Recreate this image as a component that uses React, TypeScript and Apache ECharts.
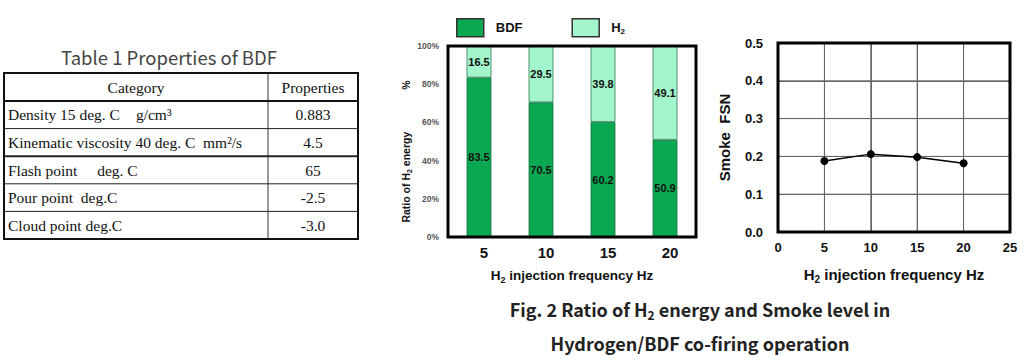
import React, { useEffect, useRef } from "react";
import * as echarts from "echarts";

// ---- data ----
const frequencyCategories = ["5", "10", "15", "20"];
const bdfRatio = [83.5, 70.5, 60.2, 50.9];
const h2Ratio = [16.5, 29.5, 39.8, 49.1];
const smokeFrequency = [5, 10, 15, 20];
const smokeFSN = [0.188, 0.206, 0.198, 0.182];
const ratioTicks = [0, 20, 40, 60, 80, 100];
const smokeXTicks = [0, 5, 10, 15, 20, 25];
const smokeYTicks = [0, 0.1, 0.2, 0.3, 0.4, 0.5];

const tableTitle = "Table 1 Properties of BDF";
const tableHeader = ["Category", "Properties"];
const tableCategories = [
  "Density 15 deg. C\u3000g/cm\u00b3",
  "Kinematic viscosity 40 deg. C  mm\u00b2/s",
  "Flash point \u3000deg. C",
  "Pour point  deg.C",
  "Cloud point deg.C",
];
const tableValues = ["0.883", "4.5", "65", "-2.5", "-3.0"];
const captionLines = [
  "{n|Fig. 2 Ratio of H}{s|2}{n| energy and Smoke level in}",
  "{n|Hydrogen/BDF co-firing operation}",
];

// ---- layout ----
const SANS = "'Liberation Sans', Arial, sans-serif";
const SERIF = "'Liberation Serif', 'Times New Roman', serif";
const JP = "'Noto Sans CJK JP', 'Noto Sans', sans-serif";
const barGrid = { left: 448, top: 46, width: 248, height: 191 };
const lineGrid = { left: 778, top: 43, width: 232, height: 189 };
const table = { x0: 4, x1: 358, xMid: 268, top: 73, headerH: 28, rowH: 27.6 };
const GRID_COLOR = "#666";

function subRich(size: number, lh: number) {
  return {
    n: { fontFamily: SANS, fontWeight: "bold", fontSize: size, lineHeight: lh, color: "#111" },
    s: { fontFamily: SANS, fontWeight: "bold", fontSize: Math.round(size * 0.65), lineHeight: Math.round(size * 0.65), verticalAlign: "bottom", color: "#111" },
    p: { fontFamily: SANS, fontWeight: "bold", fontSize: size, lineHeight: lh, color: "#111", padding: [0, 20, 0, 42] },
  };
}

function buildTable() {
  const els: any[] = [];
  const bottom = table.top + table.headerH + table.rowH * tableCategories.length;
  els.push({
    type: "text",
    style: { text: tableTitle, x: 169, y: 57, align: "center", verticalAlign: "middle", font: `18.5px ${JP}`, fill: "#444" },
  });
  els.push({
    type: "rect",
    shape: { x: table.x0, y: table.top, width: table.x1 - table.x0, height: bottom - table.top },
    style: { fill: "none", stroke: "#111", lineWidth: 2 },
  });
  els.push({
    type: "line",
    shape: { x1: table.xMid, y1: table.top, x2: table.xMid, y2: bottom },
    style: { stroke: "#333", lineWidth: 1 },
  });
  const hy = table.top + table.headerH;
  els.push({ type: "line", shape: { x1: table.x0, y1: hy, x2: table.x1, y2: hy }, style: { stroke: "#111", lineWidth: 2 } });
  for (let i = 1; i < tableCategories.length; i++) {
    const y = hy + table.rowH * i;
    els.push({ type: "line", shape: { x1: table.x0, y1: y, x2: table.x1, y2: y }, style: { stroke: "#222", lineWidth: i === 2 ? 2 : 1 } });
  }
  const f = `15.5px ${SERIF}`;
  els.push({ type: "text", style: { text: tableHeader[0], x: (table.x0 + table.xMid) / 2, y: table.top + table.headerH / 2, align: "center", verticalAlign: "middle", font: f, fill: "#111" } });
  els.push({ type: "text", style: { text: tableHeader[1], x: (table.xMid + table.x1) / 2, y: table.top + table.headerH / 2, align: "center", verticalAlign: "middle", font: f, fill: "#111" } });
  tableCategories.forEach((c, i) => {
    const cy = hy + table.rowH * i + table.rowH / 2;
    els.push({ type: "text", style: { text: c, x: table.x0 + 4, y: cy, align: "left", verticalAlign: "middle", font: f, fill: "#111" } });
    els.push({ type: "text", style: { text: tableValues[i], x: (table.xMid + table.x1) / 2, y: cy, align: "center", verticalAlign: "middle", font: f, fill: "#111" } });
  });
  return els;
}

export default function App() {
  const ref = useRef<HTMLDivElement>(null);
  useEffect(() => {
    if (!ref.current) return;
    const chart = echarts.init(ref.current, undefined, { renderer: "svg" });
    const xMin = smokeXTicks[0], xMax = smokeXTicks[smokeXTicks.length - 1];
    const yMin = smokeYTicks[0], yMax = smokeYTicks[smokeYTicks.length - 1];

    // grid lines of the smoke chart as plain line series (drawn through the axes' scales)
    const gridSeries: any[] = [
      ...smokeXTicks.slice(1, -1).map((v) => [[v, yMin], [v, yMax]]),
      ...smokeYTicks.slice(1, -1).map((v) => [[xMin, v], [xMax, v]]),
    ].map((d, i) => ({
      name: "grid" + i, type: "line", xAxisIndex: 1, yAxisIndex: 1, z: 1,
      data: d, symbol: "none", silent: true, clip: false,
      lineStyle: { color: GRID_COLOR, width: 1, type: "solid" },
      emphasis: { disabled: true },
    }));

    const graphics: any[] = [
      ...buildTable(),
      {
        type: "rect", z: 100,
        shape: { x: barGrid.left, y: barGrid.top, width: barGrid.width, height: barGrid.height },
        style: { fill: "none", stroke: "#000", lineWidth: 3 },
      },
      {
        type: "rect", z: 100,
        shape: { x: lineGrid.left, y: lineGrid.top, width: lineGrid.width, height: lineGrid.height },
        style: { fill: "none", stroke: "#000", lineWidth: 3 },
      },
      ...captionLines.map((t, i) => ({
        type: "text",
        style: {
          text: t, x: 700, y: 309 + i * 34, align: "center", verticalAlign: "middle",
          rich: {
            n: { fontFamily: JP, fontWeight: "bold", fontSize: 18, lineHeight: 24, fill: "#222" },
            s: { fontFamily: JP, fontWeight: "bold", fontSize: 12, lineHeight: 12, verticalAlign: "bottom", fill: "#222" },
          },
        },
      })),
    ];

    chart.setOption({
      animation: false,
      backgroundColor: "#fff",
      legend: {
        left: 451, top: 13, itemWidth: 27, itemHeight: 18, itemGap: 49,
        icon: "rect",
        data: ["BDF", "H2"],
        formatter: (name: string) => (name === "H2" ? "{n|H}{s|2}" : "{n|" + name + "}"),
        textStyle: { padding: [0, 0, 0, 7], rich: subRich(13, 16) },
        itemStyle: { borderColor: "#333", borderWidth: 1.5 },
      },
      grid: [{ ...barGrid }, { ...lineGrid }],
      xAxis: [
        {
          gridIndex: 0, type: "category", data: frequencyCategories,
          axisLine: { show: false }, axisTick: { show: false },
          axisLabel: { fontFamily: SANS, fontWeight: "bold", fontSize: 15, color: "#111", margin: 8, padding: [0, 0, 0, 10] },
          name: "{n|H}{s|2}{n| injection frequency Hz}", nameLocation: "middle", nameGap: 30,
          nameTextStyle: { rich: subRich(13.5, 17) },
        },
        {
          gridIndex: 1, type: "value", min: xMin, max: xMax, interval: 5,
          axisLine: { show: false }, axisTick: { show: false },
          splitLine: { show: true, lineStyle: { color: GRID_COLOR, width: 1 } },
          axisLabel: { fontFamily: SANS, fontWeight: "bold", fontSize: 13, color: "#111", margin: 9 },
          name: "{n|H}{s|2}{n| injection frequency Hz}", nameLocation: "middle", nameGap: 33,
          nameTextStyle: { rich: subRich(15, 19) },
        },
      ],
      yAxis: [
        {
          gridIndex: 0, type: "value", min: ratioTicks[0], max: ratioTicks[ratioTicks.length - 1], interval: 20,
          axisLine: { show: false }, axisTick: { show: false }, splitLine: { show: false },
          axisLabel: { formatter: "{value}%", fontFamily: SANS, fontWeight: "bold", fontSize: 8.5, color: "#555", margin: 9 },
          name: "{n|Ratio of H}{s|2}{n| energy}{p|%}", nameLocation: "middle", nameGap: 35,
          nameTextStyle: { rich: subRich(10.5, 14) },
        },
        {
          gridIndex: 1, type: "value", min: yMin, max: yMax, interval: 0.1,
          axisLine: { show: false }, axisTick: { show: false },
          splitLine: { show: true, lineStyle: { color: GRID_COLOR, width: 1 } },
          axisLabel: { formatter: (v: number) => v.toFixed(1), fontFamily: SANS, fontWeight: "bold", fontSize: 13, color: "#111", margin: 15 },
          name: "Smoke  FSN", nameLocation: "middle", nameGap: 46,
          nameTextStyle: { fontFamily: SANS, fontWeight: "bold", fontSize: 15, color: "#111" },
        },
      ],
      series: [
        {
          name: "BDF", type: "bar", stack: "r", xAxisIndex: 0, yAxisIndex: 0, barWidth: "40%",
          data: bdfRatio,
          itemStyle: { color: "#0aa850", borderColor: "#1b6e45", borderWidth: 0.8 },
          label: { show: true, position: "inside", fontFamily: SANS, fontWeight: "bold", fontSize: 11, color: "#111" },
        },
        {
          name: "H2", type: "bar", stack: "r", xAxisIndex: 0, yAxisIndex: 0, barWidth: "40%",
          data: h2Ratio,
          itemStyle: { color: "#a3f5cb", borderColor: "#2f7a55", borderWidth: 0.8 },
          label: { show: true, position: "inside", fontFamily: SANS, fontWeight: "bold", fontSize: 11, color: "#111" },
        },
        ...gridSeries,
        {
          name: "Smoke", type: "line", xAxisIndex: 1, yAxisIndex: 1, z: 60,
          data: smokeFrequency.map((f, i) => [f, smokeFSN[i]]),
          symbol: "circle", symbolSize: 8,
          lineStyle: { color: "#000", width: 1.5 },
          itemStyle: { color: "#000" },
        },
      ],
      graphic: graphics,
    });
    return () => chart.dispose();
  }, []);
  return (
    <div
      ref={ref}
      style={{ position: "absolute", left: 0, top: 0, width: 1024, height: 363, background: "#fff" }}
    />
  );
}
